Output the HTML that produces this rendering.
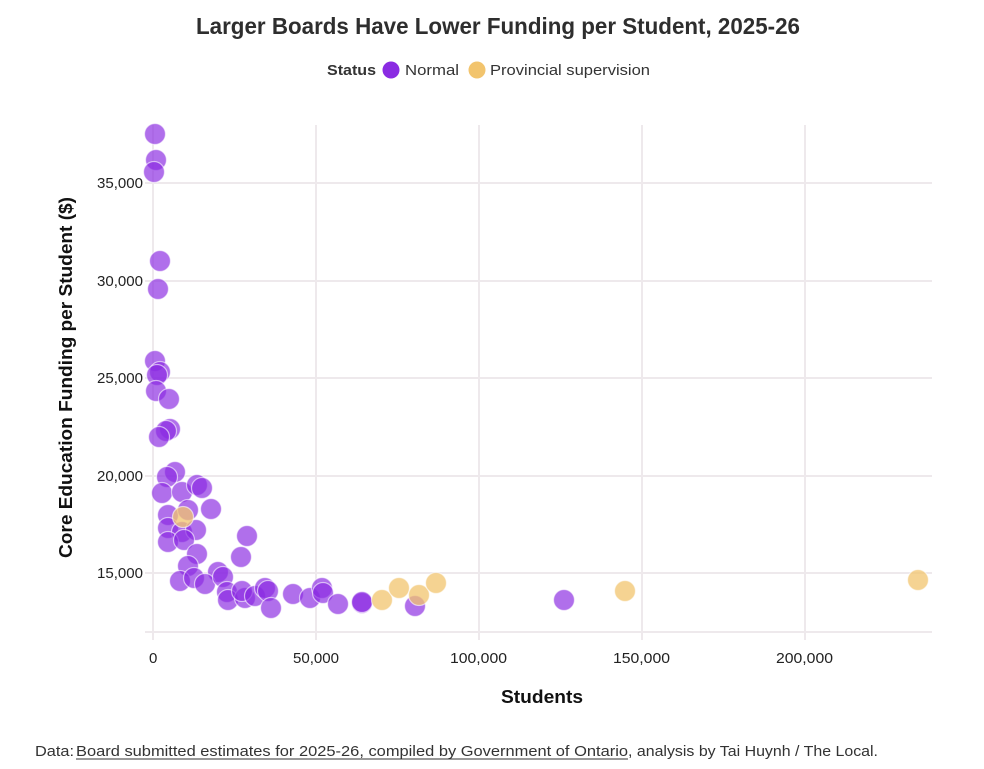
<!DOCTYPE html>
<html><head><meta charset="utf-8"><style>
html,body{margin:0;padding:0;background:#fff;}
svg{display:block;font-family:"Liberation Sans",sans-serif;}
</style></head><body>
<svg width="984" height="769" viewBox="0 0 984 769" xmlns="http://www.w3.org/2000/svg">
<rect width="984" height="769" fill="#fff"/>
<text x="196" y="34" font-size="23" font-weight="bold" fill="#2e2e2e" textLength="604" lengthAdjust="spacingAndGlyphs">Larger Boards Have Lower Funding per Student, 2025-26</text>
<text x="327" y="75" font-size="15" font-weight="bold" fill="#333" textLength="49" lengthAdjust="spacingAndGlyphs">Status</text>
<circle cx="391" cy="70" r="8.5" fill="#8a2be2"/>
<text x="405" y="75" font-size="15" fill="#333" textLength="54" lengthAdjust="spacingAndGlyphs">Normal</text>
<circle cx="477" cy="70" r="8.5" fill="#f2c46d"/>
<text x="490" y="75" font-size="15" fill="#333" textLength="160" lengthAdjust="spacingAndGlyphs">Provincial supervision</text>
<g stroke="#eee9ec" stroke-width="2">
<line x1="145" y1="183" x2="932" y2="183"/>
<line x1="145" y1="281" x2="932" y2="281"/>
<line x1="145" y1="378" x2="932" y2="378"/>
<line x1="145" y1="476" x2="932" y2="476"/>
<line x1="145" y1="573" x2="932" y2="573"/>
<line x1="145" y1="632" x2="932" y2="632"/>
<line x1="153" y1="125" x2="153" y2="640"/>
<line x1="316" y1="125" x2="316" y2="640"/>
<line x1="479" y1="125" x2="479" y2="640"/>
<line x1="642" y1="125" x2="642" y2="640"/>
<line x1="805" y1="125" x2="805" y2="640"/>
</g>
<g font-size="15" fill="#222">
<text x="97" y="188" textLength="46" lengthAdjust="spacingAndGlyphs">35,000</text>
<text x="97" y="286" textLength="46" lengthAdjust="spacingAndGlyphs">30,000</text>
<text x="97" y="383" textLength="46" lengthAdjust="spacingAndGlyphs">25,000</text>
<text x="97" y="481" textLength="46" lengthAdjust="spacingAndGlyphs">20,000</text>
<text x="97" y="578" textLength="46" lengthAdjust="spacingAndGlyphs">15,000</text>
</g>
<g font-size="15" fill="#222">
<text x="149" y="663">0</text>
<text x="293" y="663" textLength="46" lengthAdjust="spacingAndGlyphs">50,000</text>
<text x="450" y="663" textLength="57" lengthAdjust="spacingAndGlyphs">100,000</text>
<text x="613" y="663" textLength="57" lengthAdjust="spacingAndGlyphs">150,000</text>
<text x="776" y="663" textLength="57" lengthAdjust="spacingAndGlyphs">200,000</text>
</g>
<text x="501" y="703" font-size="18" font-weight="bold" fill="#111" textLength="82" lengthAdjust="spacingAndGlyphs">Students</text>
<text transform="translate(72,558) rotate(-90)" x="0" y="0" font-size="18" font-weight="bold" fill="#111" textLength="361" lengthAdjust="spacingAndGlyphs">Core Education Funding per Student ($)</text>
<g stroke="#fff" stroke-opacity="0.6" stroke-width="1.2">
<g fill="#8a2be2" fill-opacity="0.68">
<circle cx="155" cy="134" r="10.5"/>
<circle cx="156" cy="160" r="10.5"/>
<circle cx="154" cy="172" r="10.5"/>
<circle cx="160" cy="261" r="10.5"/>
<circle cx="158" cy="289" r="10.5"/>
<circle cx="155" cy="361" r="10.5"/>
<circle cx="160" cy="372" r="10.5"/>
<circle cx="157" cy="375" r="10.5"/>
<circle cx="156" cy="391" r="10.5"/>
<circle cx="169" cy="399" r="10.5"/>
<circle cx="170" cy="429" r="10.5"/>
<circle cx="166" cy="431" r="10.5"/>
<circle cx="159" cy="437" r="10.5"/>
<circle cx="175" cy="472" r="10.5"/>
<circle cx="167" cy="477" r="10.5"/>
<circle cx="162" cy="493" r="10.5"/>
<circle cx="182" cy="492" r="10.5"/>
<circle cx="197" cy="485" r="10.5"/>
<circle cx="202" cy="488" r="10.5"/>
<circle cx="211" cy="509" r="10.5"/>
<circle cx="168" cy="515" r="10.5"/>
<circle cx="188" cy="510" r="10.5"/>
<circle cx="168" cy="528" r="10.5"/>
<circle cx="182" cy="532" r="10.5"/>
<circle cx="196" cy="530" r="10.5"/>
<circle cx="168" cy="542" r="10.5"/>
<circle cx="184" cy="540" r="10.5"/>
<circle cx="247" cy="536" r="10.5"/>
<circle cx="241" cy="557" r="10.5"/>
<circle cx="197" cy="554" r="10.5"/>
<circle cx="188" cy="566" r="10.5"/>
<circle cx="218" cy="572" r="10.5"/>
<circle cx="180" cy="581" r="10.5"/>
<circle cx="194" cy="578" r="10.5"/>
<circle cx="205" cy="584" r="10.5"/>
<circle cx="223" cy="577" r="10.5"/>
<circle cx="227" cy="592" r="10.5"/>
<circle cx="228" cy="600" r="10.5"/>
<circle cx="245" cy="598" r="10.5"/>
<circle cx="242" cy="591" r="10.5"/>
<circle cx="255" cy="596" r="10.5"/>
<circle cx="265" cy="588" r="10.5"/>
<circle cx="268" cy="591" r="10.5"/>
<circle cx="271" cy="608" r="10.5"/>
<circle cx="293" cy="594" r="10.5"/>
<circle cx="310" cy="598" r="10.5"/>
<circle cx="322" cy="588" r="10.5"/>
<circle cx="323" cy="593" r="10.5"/>
<circle cx="338" cy="604" r="10.5"/>
<circle cx="362" cy="603" r="10.5"/>
<circle cx="362" cy="602" r="10.5"/>
<circle cx="415" cy="606" r="10.5"/>
<circle cx="564" cy="600" r="10.5"/>
</g>
<g fill="#f2c46d" fill-opacity="0.75">
<circle cx="183" cy="517" r="10.5"/>
<circle cx="382" cy="600" r="10.5"/>
<circle cx="399" cy="588" r="10.5"/>
<circle cx="419" cy="595" r="10.5"/>
<circle cx="436" cy="583" r="10.5"/>
<circle cx="625" cy="591" r="10.5"/>
<circle cx="918" cy="580" r="10.5"/>
</g>
</g>
<g font-size="15" fill="#333">
<text x="35" y="756" textLength="39" lengthAdjust="spacingAndGlyphs">Data:</text>
<text x="76" y="756" textLength="552" lengthAdjust="spacingAndGlyphs">Board submitted estimates for 2025-26, compiled by Government of Ontario</text>
<text x="628" y="756" textLength="250" lengthAdjust="spacingAndGlyphs">, analysis by Tai Huynh / The Local.</text>
</g>
<line x1="76" y1="759" x2="628" y2="759" stroke="#333" stroke-width="1"/>
</svg>
</body></html>
